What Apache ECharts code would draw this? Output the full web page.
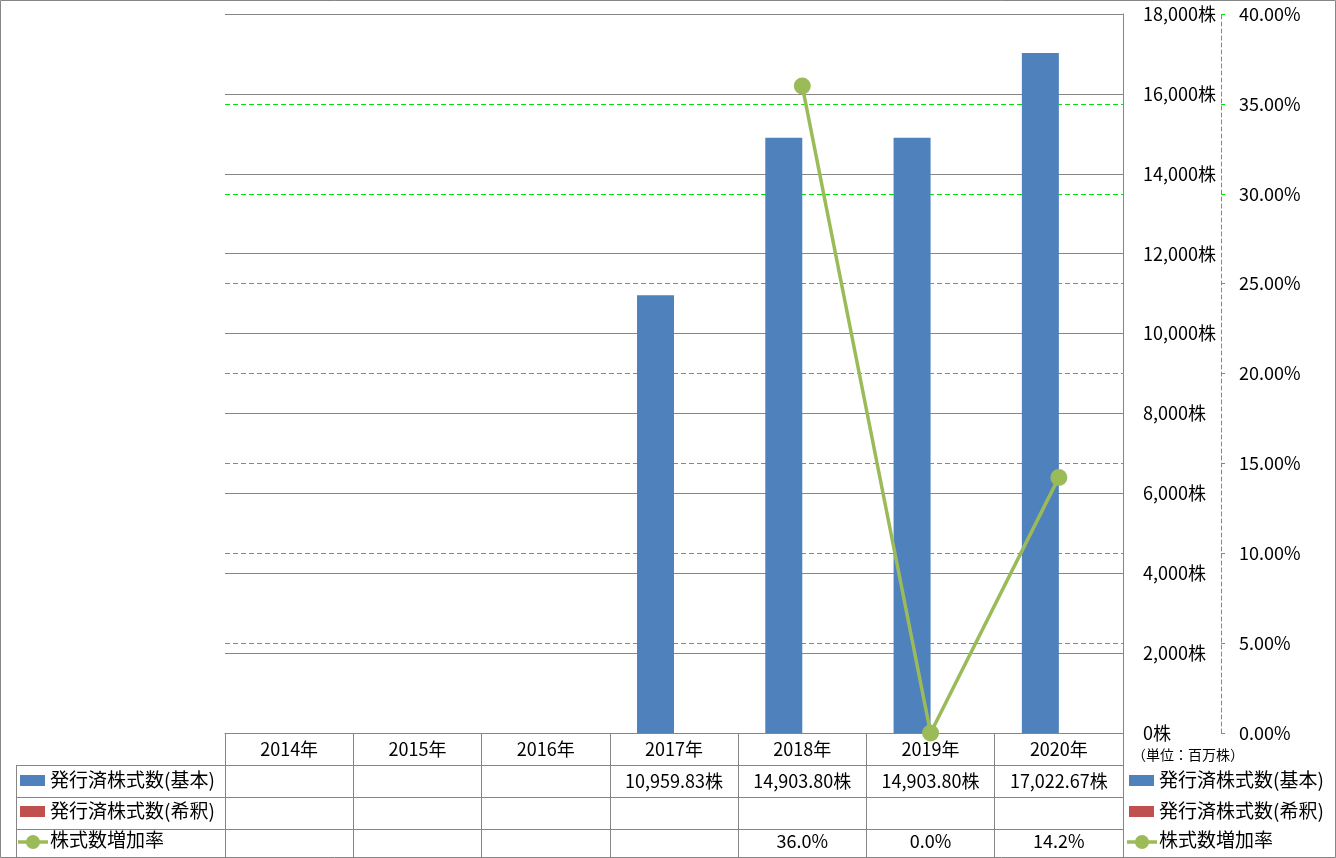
<!DOCTYPE html>
<html><head><meta charset="utf-8">
<script src="https://cdn.jsdelivr.net/npm/echarts@6/dist/echarts.min.js"></script>
<style>html,body{margin:0;padding:0;background:#fff}#c{width:1336px;height:858px}</style>
</head><body><div id="c"></div>
<script>
// ---- data ----
const categories = ['2014年','2015年','2016年','2017年','2018年','2019年','2020年'];
const sharesBasic = [null,null,null,10959.83,14903.80,14903.80,17022.67];
const sharesDiluted = [null,null,null,null,null,null,null];
const growthRate = [null,null,null,null,35.99,0.0,14.22];
const seriesNames = ['発行済株式数(基本)','発行済株式数(希釈)','株式数増加率'];
const leftAxisRange = [0, 18000, 2000];
const rightAxisRange = [0, 40, 5];
const unitLabel = '（単位：百万株）';

// ---- styles ----
const FONT = '"Noto Sans CJK JP", "Noto Sans", sans-serif';
const GRAY = '#868686';
const GREEN_GRID = '#00e600';
const C_BASIC = '#4F81BD', C_DIL = '#C0504D', C_RATE = '#9BBB59';

function fmtNum(v){
  const p = v.toFixed(2).split('.');
  return p[0].replace(/\B(?=(\d{3})+(?!\d))/g, ',') + '.' + p[1];
}
function fmtInt(v){ return String(Math.round(v)).replace(/\B(?=(\d{3})+(?!\d))/g, ','); }

const chart = echarts.init(document.getElementById('c'));
const option = {
  animation: false,
  backgroundColor: '#fff',
  textStyle: { fontFamily: FONT },
  grid: { left: 225, right: 213, top: 14, bottom: 125 },
  xAxis: [{
    type: 'category', data: categories, position: 'bottom',
    axisLine: { show: true, lineStyle: { color: GRAY, width: 1 } },
    axisTick: { show: true, interval: 0, length: 125, lineStyle: { color: GRAY, width: 1 } },
    axisLabel: { interval: 0, margin: 7, fontSize: 18, lineHeight: 18, color: '#000', fontFamily: FONT },
    splitLine: { show: false }
  }],
  yAxis: [{
    type: 'value', position: 'right', z: 1,
    min: leftAxisRange[0], max: leftAxisRange[1], interval: leftAxisRange[2],
    axisLine: { show: true, lineStyle: { color: GRAY, width: 1 } },
    axisTick: { show: false },
    axisLabel: { margin: 20, fontSize: 18, color: '#000', fontFamily: FONT, formatter: v => fmtInt(v) + '株' },
    splitLine: { show: true, lineStyle: { color: GRAY, width: 1, type: 'solid' } }
  }, {
    type: 'value', position: 'right', offset: 98, z: 0,
    min: rightAxisRange[0], max: rightAxisRange[1], interval: rightAxisRange[2],
    axisLine: { show: true, lineStyle: { color: GREEN_GRID, width: 1, type: [4, 3] } },
    axisTick: { show: true, inside: false, length: 4, lineStyle: { color: GREEN_GRID, width: 1 } },
    axisLabel: { margin: 18, fontSize: 18, color: '#000', fontFamily: FONT, formatter: v => v.toFixed(2) + '%' },
    splitLine: { show: true, lineStyle: { color: GREEN_GRID, width: 1, type: [5, 3] } }
  }],
  series: [{
    name: seriesNames[0], type: 'bar', data: sharesBasic, yAxisIndex: 0,
    barWidth: 37, barGap: '0%', itemStyle: { color: C_BASIC }
  }, {
    name: seriesNames[1], type: 'bar', data: sharesDiluted, yAxisIndex: 0,
    barWidth: 37, barGap: '0%', itemStyle: { color: C_DIL }
  }, {
    name: seriesNames[2], type: 'line', data: growthRate, yAxisIndex: 1,
    symbol: 'circle', symbolSize: 17, connectNulls: false,
    lineStyle: { color: C_RATE, width: 3.5 }, itemStyle: { color: C_RATE }, z: 5
  }]
};
chart.setOption(option);

// ---- data table & legends ----
const g = [];
const rowBreaks = [765, 797, 829], tableBottom = 858;
const plotRight = 1123, legendColLeft = 16;
g.push({ type: 'rect', silent: true, shape: { x: 0.5, y: 0.5, width: 1335, height: 857 },
  style: { fill: 'none', stroke: GRAY, lineWidth: 1 } });
rowBreaks.forEach(y => g.push({ type: 'line', silent: true,
  shape: { x1: legendColLeft, y1: y + 0.5, x2: plotRight + 1, y2: y + 0.5 }, style: { stroke: GRAY, lineWidth: 1 } }));
g.push({ type: 'line', silent: true, shape: { x1: legendColLeft + 0.5, y1: rowBreaks[0], x2: legendColLeft + 0.5, y2: tableBottom },
  style: { stroke: GRAY, lineWidth: 1 } });

const rowCenters = [781, 813, 841];
const rows = [
  { vals: sharesBasic, fmt: v => fmtNum(v) + '株' },
  { vals: sharesDiluted, fmt: v => fmtNum(v) + '株' },
  { vals: growthRate, fmt: v => v.toFixed(1) + '%' }
];
rows.forEach((r, ri) => r.vals.forEach((v, i) => {
  if (v == null) return;
  const x = chart.convertToPixel({ xAxisIndex: 0 }, i);
  g.push({ type: 'text', silent: true, x: x, y: rowCenters[ri],
    style: { text: r.fmt(v), font: '18px ' + FONT, fill: '#000',
      textAlign: 'center', textVerticalAlign: 'middle', align: 'center', verticalAlign: 'middle' } });
}));

function legendBlock(x0) {
  const colors = [C_BASIC, C_DIL];
  const rectY = [775, 806];
  colors.forEach((c, i) => g.push({ type: 'rect', silent: true,
    shape: { x: x0 + 2, y: rectY[i], width: 25, height: 11 }, style: { fill: c } }));
  g.push({ type: 'line', silent: true, shape: { x1: x0, y1: 842, x2: x0 + 30, y2: 842 },
    style: { stroke: C_RATE, lineWidth: 3.5 } });
  g.push({ type: 'circle', silent: true, shape: { cx: x0 + 15, cy: 842, r: 7 }, style: { fill: C_RATE } });
  seriesNames.forEach((n, i) => g.push({ type: 'text', silent: true, x: x0 + 32, y: [780, 811, 840][i],
    style: { text: n, font: '19px ' + FONT, fill: '#000',
      textAlign: 'left', textVerticalAlign: 'middle', align: 'left', verticalAlign: 'middle' } }));
}
legendBlock(18);
legendBlock(1127);

g.push({ type: 'text', silent: true, x: 1132, y: 755,
  style: { text: unitLabel, font: '14px ' + FONT, fill: '#000',
    textAlign: 'left', textVerticalAlign: 'middle', align: 'left', verticalAlign: 'middle' } });

chart.setOption({ graphic: g });
</script>
</body></html>
